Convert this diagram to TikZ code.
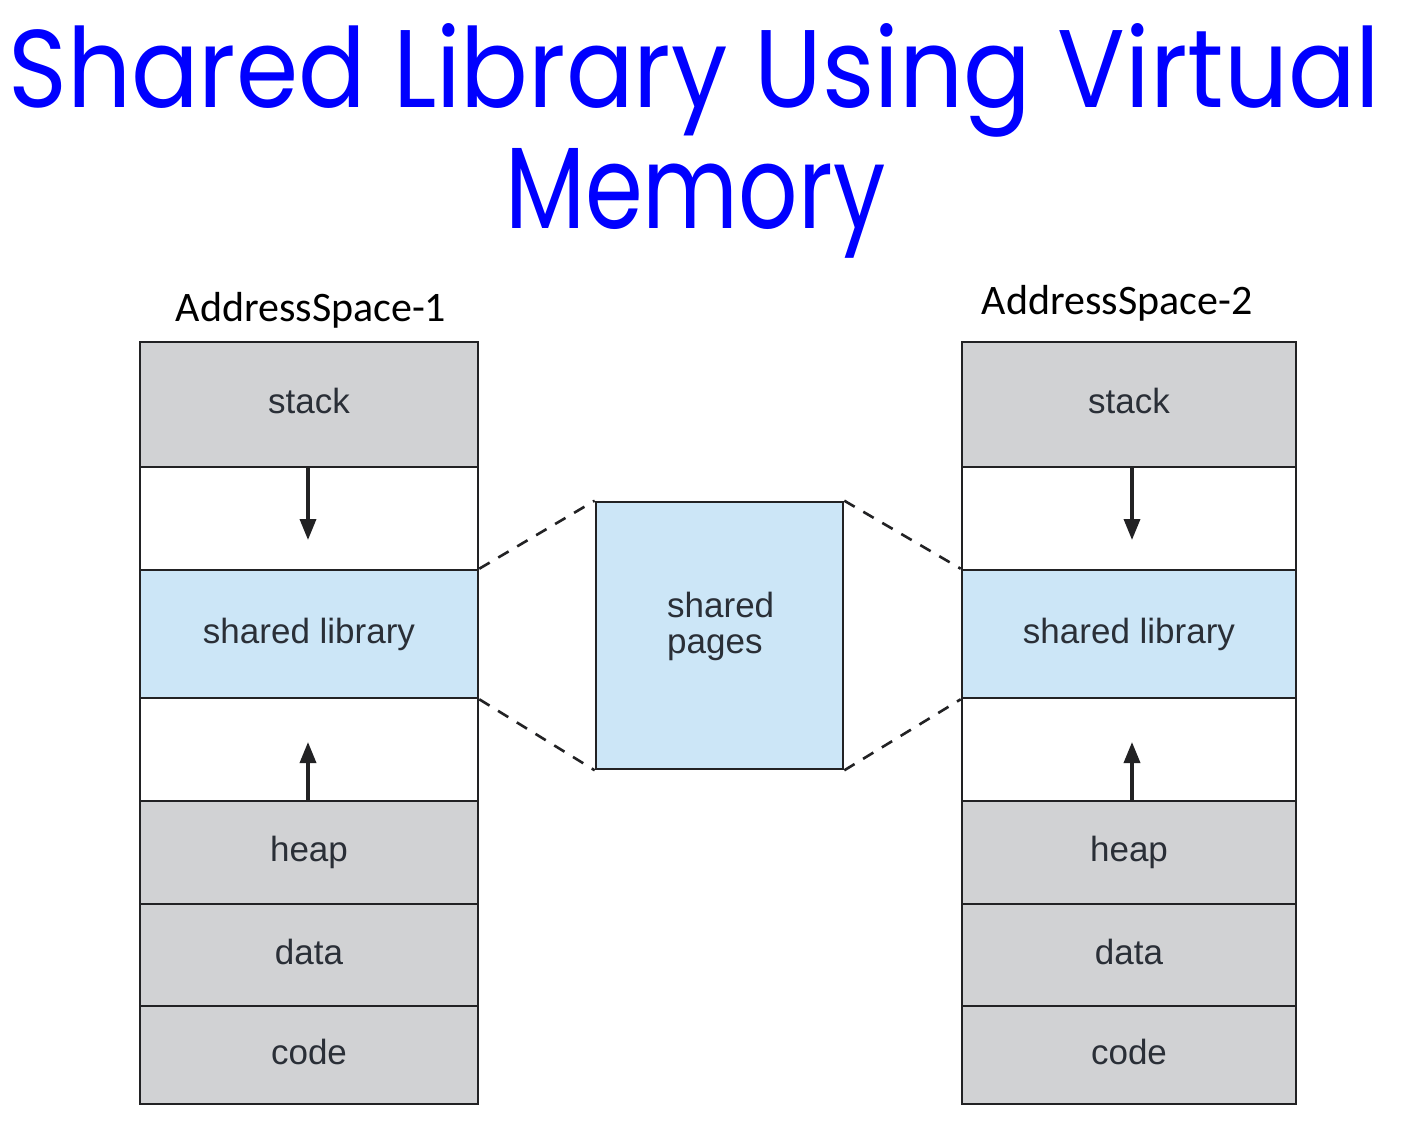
\documentclass[tikz,border=0pt]{standalone}
\usepackage{fontspec}
\usepackage{graphicx}
\setmainfont{Liberation Sans}
\newfontfamily\titlefont{Poppins}
\newfontfamily\headfont{Carlito}
\usetikzlibrary{arrows.meta}
\definecolor{segGray}{RGB}{209,210,212}
\definecolor{segBlue}{RGB}{204,230,247}
\definecolor{edgeDark}{RGB}{34,34,36}
\definecolor{txtDark}{RGB}{42,47,55}
\definecolor{titleBlue}{RGB}{0,0,255}
\begin{document}
\begin{tikzpicture}[x=1pt,y=-1pt,
  seg/.style={draw=edgeDark, line width=2.6pt, inner sep=0pt, minimum width=#1,
    text=txtDark, text height=25pt, text depth=7pt, font=\fontsize{35}{37}\selectfont},
  graySeg/.style={seg=#1, fill=segGray},
  blueSeg/.style={seg=#1, fill=segBlue},
  whiteSeg/.style={seg=#1, fill=white},
  growArrow/.style={line width=3.5pt, draw=edgeDark, -{Triangle[length=21pt,width=16pt]}},
  shareLink/.style={line width=2.6pt, draw=edgeDark, dash pattern=on 12pt off 10pt},
  headLabel/.style={inner sep=0pt, anchor=base, font=\headfont\fontsize{42}{46}\selectfont},
  titleLine/.style={inner sep=0pt, anchor=base west, text=titleBlue, font=\titlefont}
]
\useasboundingbox[fill=white] (0,0) rectangle (1410,1132);

% title
\node[titleLine] (t1) at (8,107) {\resizebox{1372pt}{84pt}{Shared Library Using Virtual}};
\node[titleLine] (t2) at (505,228) {\resizebox{380pt}{80pt}{Memory}};

% headings
\node[headLabel] (h1) at (311,321) {AddressSpace-1};
\node[headLabel] (h2) at (1117,314) {AddressSpace-2};

% address space 1
\node[graySeg=338pt, minimum height=125pt] (stackA) at (309,404.5) {stack};
\node[whiteSeg=338pt, minimum height=103pt] (gapA1) at (309,518.5) {};
\node[blueSeg=338pt, minimum height=128pt] (libA) at (309,634) {shared library};
\node[whiteSeg=338pt, minimum height=103pt] (gapA2) at (309,749.5) {};
\node[graySeg=338pt, minimum height=103pt] (heapA) at (309,852.5) {heap};
\node[graySeg=338pt, minimum height=102pt] (dataA) at (309,955) {data};
\node[graySeg=338pt, minimum height=98pt] (codeA) at (309,1055) {code};

% address space 2
\node[graySeg=334pt, minimum height=125pt] (stackB) at (1129,404.5) {stack};
\node[whiteSeg=334pt, minimum height=103pt] (gapB1) at (1129,518.5) {};
\node[blueSeg=334pt, minimum height=128pt] (libB) at (1129,634) {shared library};
\node[whiteSeg=334pt, minimum height=103pt] (gapB2) at (1129,749.5) {};
\node[graySeg=334pt, minimum height=103pt] (heapB) at (1129,852.5) {heap};
\node[graySeg=334pt, minimum height=102pt] (dataB) at (1129,955) {data};
\node[graySeg=334pt, minimum height=98pt] (codeB) at (1129,1055) {code};

% shared pages
\node[blueSeg=247pt, minimum height=267pt] (pages) at (719.5,635.5) {};
\node[inner sep=0pt, anchor=base west, text=txtDark, align=left,
  font=\fontsize{35}{36}\selectfont] (pagesTxt) at (667,653) {shared\\pages};

% growth arrows
\coordinate (downEndA) at (308,540);
\coordinate (upEndA) at (308,742);
\coordinate (downEndB) at (1132,540);
\coordinate (upEndB) at (1132,742);
\draw[growArrow] (stackA.south -| downEndA) -- (downEndA);
\draw[growArrow] (heapA.north -| upEndA) -- (upEndA);
\draw[growArrow] (stackB.south -| downEndB) -- (downEndB);
\draw[growArrow] (heapB.north -| upEndB) -- (upEndB);

% mapping lines
\draw[shareLink] (libA.north east) -- (pages.north west);
\draw[shareLink] (libA.south east) -- (pages.south west);
\draw[shareLink] (pages.north east) -- (libB.north west);
\draw[shareLink] (pages.south east) -- (libB.south west);
\end{tikzpicture}
\end{document}
